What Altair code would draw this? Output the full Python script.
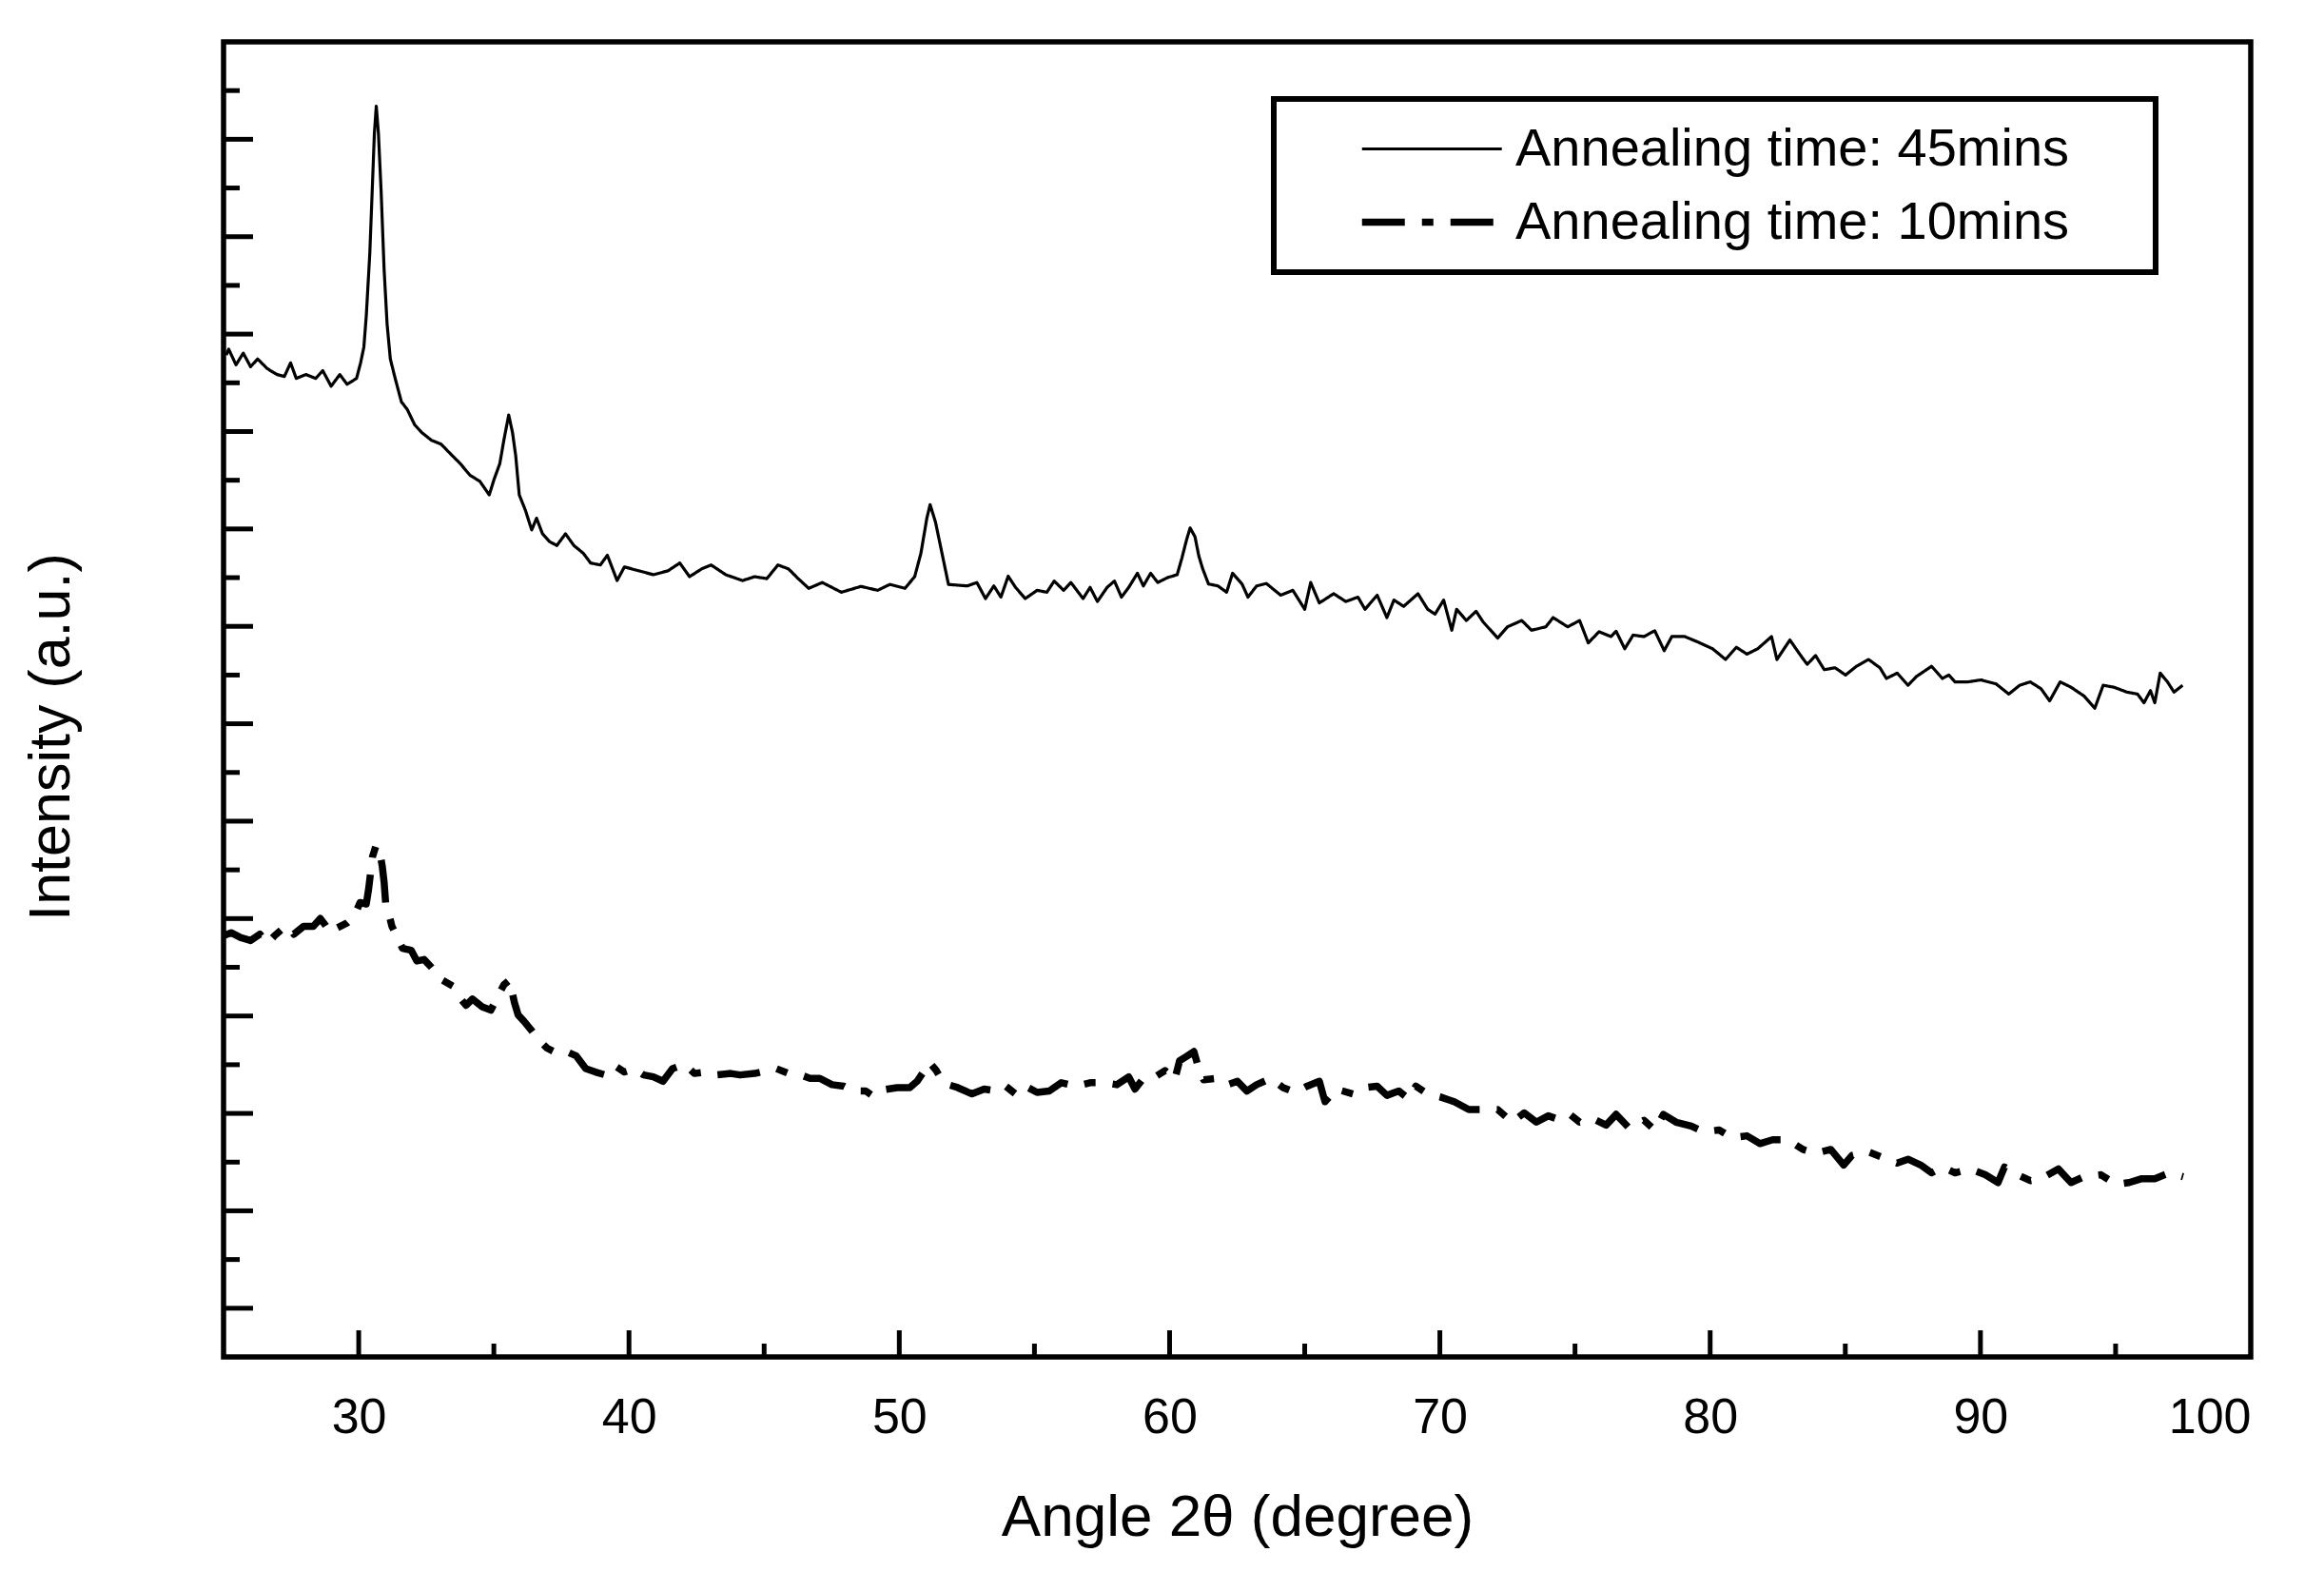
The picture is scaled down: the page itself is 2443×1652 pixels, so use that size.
import altair as alt
import pandas as pd

# ---- data ----
S45 = "Annealing time: 45mins"
S10 = "Annealing time: 10mins"

top_x = [25.10, 25.19, 25.46, 25.73, 26.00, 26.26, 26.62, 26.98, 27.25, 27.48,
         27.69, 28.05, 28.41, 28.67, 28.98, 29.30, 29.57, 29.92, 30.07, 30.19,
         30.28, 30.41, 30.51, 30.58, 30.65, 30.73, 30.83, 30.94, 31.05, 31.17,
         31.35, 31.58, 31.80, 32.07, 32.33, 32.69, 33.05, 33.40, 33.76, 34.12,
         34.48, 34.83, 35.01, 35.22, 35.37, 35.55, 35.69, 35.81, 35.94, 36.17,
         36.40, 36.58, 36.80, 37.06, 37.33, 37.65, 37.96, 38.31, 38.58, 38.94,
         39.20, 39.56, 39.83, 40.37, 40.90, 41.44, 41.88, 42.24, 42.69, 43.04,
         43.58, 44.20, 44.65, 45.10, 45.51, 45.90, 46.26, 46.65, 47.15, 47.86,
         48.58, 49.20, 49.65, 50.21, 50.57, 50.80, 51.02, 51.14, 51.34, 51.55,
         51.82,
         52.52, 52.87, 53.19, 53.50, 53.76, 54.03, 54.30, 54.66, 55.10, 55.46,
         55.73, 56.08, 56.35, 56.80, 57.06, 57.33, 57.69, 57.96, 58.22, 58.49,
         58.81, 59.03, 59.30, 59.56, 59.92, 60.28, 60.45, 60.63, 60.76, 60.94,
         61.08, 61.22, 61.44, 61.79, 62.11, 62.33, 62.68, 62.90, 63.22, 63.58,
         64.11, 64.56, 65.00, 65.22, 65.54, 66.07, 66.52, 66.97, 67.23, 67.68,
         68.04, 68.30, 68.66, 69.19, 69.55, 69.82, 70.14, 70.44, 70.62, 70.98,
         71.34, 71.60, 72.14, 72.50, 73.03, 73.39, 73.92, 74.19, 74.73, 75.17,
         75.49, 75.89, 76.33,
         76.52, 76.84, 77.15, 77.55, 77.95, 78.30, 78.58, 79.06, 79.54, 80.09,
         80.57, 80.97, 81.36, 81.76, 82.27, 82.47, 82.95, 83.35, 83.59, 83.90,
         84.22, 84.62, 85.01, 85.41, 85.86, 86.28, 86.52, 86.92, 87.32, 87.63,
         88.19, 88.59, 88.83, 89.06, 89.54, 90.02, 90.57, 91.05, 91.45, 91.84,
         92.24, 92.56, 92.95, 93.35, 93.83, 94.23, 94.54, 94.94, 95.42, 95.81,
         96.05, 96.29, 96.45, 96.65, 96.92, 97.16, 97.48]

top_y = [2057, 2069, 2037, 2061, 2033, 2049, 2029, 2017, 2013, 2041,
         2009, 2017, 2009, 2025, 1993, 2017, 1997, 2009, 2041, 2073,
         2137, 2265, 2409, 2512, 2568, 2512, 2393, 2233, 2121, 2049,
         2009, 1961, 1945, 1914, 1898, 1882, 1874, 1854, 1834, 1810,
         1798, 1770, 1802, 1834, 1882, 1934, 1898, 1850, 1770, 1738,
         1698, 1722, 1690, 1674, 1666, 1690, 1666, 1650, 1630, 1626,
         1646, 1594, 1622, 1614, 1606, 1614, 1630, 1602, 1618, 1626,
         1606, 1594, 1602, 1598, 1626, 1618, 1598, 1578, 1590, 1570,
         1582, 1574, 1586, 1578, 1602, 1650, 1722, 1750, 1714, 1658,
         1586,
         1583, 1590, 1557, 1583, 1560, 1603, 1580, 1557, 1574, 1570,
         1593, 1574, 1590, 1557, 1580, 1551, 1580, 1593, 1560, 1580,
         1609, 1583, 1609, 1590, 1600, 1606, 1639, 1678, 1702, 1684,
         1645, 1619, 1587, 1583, 1570, 1609, 1587, 1560, 1583, 1588,
         1564, 1574, 1535, 1590, 1548, 1567, 1551, 1560, 1535, 1564,
         1518, 1554, 1541, 1567, 1535, 1525, 1554, 1492, 1535, 1512,
         1531, 1509, 1476, 1499, 1512, 1492, 1499, 1518, 1499, 1512,
         1466, 1489, 1479,
         1490, 1454, 1482, 1479, 1491, 1450, 1479, 1479, 1468, 1454,
         1432, 1457, 1443, 1454, 1479, 1432, 1472, 1440, 1422, 1440,
         1411, 1415, 1400, 1418, 1432, 1415, 1393, 1404, 1379, 1397,
         1418, 1393, 1400, 1386, 1386, 1390, 1382, 1361, 1379, 1386,
         1372, 1347, 1386, 1375, 1357, 1332, 1379, 1375, 1365, 1361,
         1343, 1368, 1343, 1404, 1386, 1365, 1379]

bot_x = [25.00, 25.28, 25.64, 26.00, 26.35, 26.62, 26.89, 27.16, 27.42, 27.60,
         27.96, 28.32, 28.58, 28.76, 28.94, 29.21, 29.57, 29.83, 30.05, 30.28,
         30.37, 30.51, 30.64, 30.76, 30.87, 30.94, 31.00, 31.08, 31.23, 31.40,
         31.62, 31.94, 32.15, 32.42, 32.69, 33.08, 33.49, 33.73, 33.97, 34.21,
         34.56, 34.89, 35.15, 35.37, 35.58, 35.76, 35.90, 36.12, 36.40, 36.62,
         36.97, 37.33, 37.69, 38.05, 38.40, 38.76, 39.12, 39.47, 39.83, 40.19,
         40.54, 40.90, 41.26, 41.61, 42.06, 42.42, 42.86, 43.22, 43.76, 44.11,
         44.65, 45.10, 45.45, 45.90, 46.35, 46.70, 47.06, 47.51, 47.95, 48.31,
         48.76, 49.02, 49.47, 49.92, 50.39, 50.66, 50.93, 51.11, 51.37, 51.64,
         52.16, 52.69, 53.14, 53.59, 53.94, 54.30, 54.66, 55.10, 55.55, 55.99,
         56.53, 57.06, 57.60, 58.05, 58.49, 58.72, 59.03, 59.47, 59.83, 60.19,
         60.37, 60.63, 60.90, 61.08, 61.26, 61.70, 62.15, 62.51, 62.86, 63.22,
         63.75, 64.20, 64.65, 65.09, 65.54, 65.75, 66.16, 66.79, 67.23, 67.68,
         68.04, 68.48, 68.84, 69.11, 69.55, 70.00, 70.53, 71.07, 71.60, 72.14,
         72.67, 73.12, 73.57, 74.01, 74.37, 74.81, 75.17, 75.71, 76.15,
         76.52, 77.00, 77.55, 77.95, 78.27, 78.74, 79.30, 79.77, 80.33, 80.81,
         81.36, 81.84, 82.31, 82.87, 83.43, 83.90, 84.46, 84.94, 85.25, 85.81,
         86.36, 86.92, 87.32, 87.79, 88.19, 88.59, 89.06, 89.62, 90.18, 90.65,
         90.89, 91.37, 91.84, 92.24, 92.88, 93.35, 93.83, 94.46, 95.02, 95.50,
         95.97, 96.45, 97.00, 97.50]

bot_y = [865, 871, 861, 855, 868, 849, 865, 878, 884, 868,
         884, 884, 900, 887, 871, 881, 891, 904, 933, 930,
         962, 1027, 1050, 1043, 1008, 975, 930, 917, 884, 865,
         839, 835, 813, 816, 800, 774, 761, 738, 722, 735,
         719, 712, 741, 764, 774, 728, 702, 689, 670, 653,
         634, 624, 627, 618, 592, 585, 579, 598, 585, 592,
         579, 575, 566, 592, 601, 582, 585, 579, 582, 579,
         582, 588, 592, 582, 579, 572, 572, 559, 556, 546,
         546, 536, 549, 553, 553, 566, 588, 605, 588, 562,
         553, 540, 550, 546, 556, 540, 556, 543, 546, 563,
         556, 563, 563, 559, 575, 550, 572, 575, 588, 569,
         608, 617, 627, 592, 569, 572, 559, 566, 546, 559,
         572, 553, 543, 556, 566, 524, 550, 540, 553, 556,
         537, 546, 530, 556, 540, 534, 524, 508, 508, 508,
         482, 501, 482, 495, 488, 498, 482, 488, 476,
         498, 470, 486, 466, 498, 482, 474, 462, 466, 450,
         454, 438, 446, 446, 426, 418, 426, 394, 414, 422,
         410, 398, 406, 394, 378, 390, 378, 386, 374, 358,
         390, 374, 362, 366, 386, 358, 370, 374, 354, 358,
         366, 366, 378, 370]

x_labels = [30, 40, 50, 60, 70, 80, 90, 100]
x_major = [30, 40, 50, 60, 70, 80, 90]
x_minor = [35, 45, 55, 65, 75, 85, 95]
y_major = [100, 300, 500, 700, 900, 1100, 1300, 1500, 1700, 1900, 2100, 2300, 2500]
y_minor = [200, 400, 600, 800, 1000, 1200, 1400, 1600, 1800, 2000, 2200, 2400, 2600]

# ---- chart ----
W, H = 2131, 1382
FONT = "Liberation Sans"
xs = alt.Scale(domain=[25, 100], nice=False, zero=False)
ys = alt.Scale(domain=[0, 2700], nice=False, zero=False)

x_axis = alt.Axis(
    values=x_labels, title="Angle 2θ (degree)", ticks=False,
    domain=False, grid=False, labelFont=FONT, labelFontSize=52,
    labelColor="black", labelBaseline="alphabetic", labelPadding=79,
    titleFont=FONT, titleFontSize=62, titleFontWeight="normal",
    titleColor="black", titleBaseline="alphabetic", titleY=187)
y_axis = alt.Axis(
    title="Intensity (a.u.)", labels=False, ticks=False, domain=False,
    grid=False, titleFont=FONT, titleFontSize=61, titleFontWeight="normal",
    titleColor="black", titleAngle=270, titleAlign="center",
    titleBaseline="alphabetic", titleX=-163, titleY=730)

df = pd.DataFrame({
    "angle": top_x + bot_x,
    "intensity": top_y + bot_y,
    "series": [S45] * len(top_x) + [S10] * len(bot_x),
})

leg = alt.Legend(
    title=None, orient="none", legendX=1193, legendY=74,
    symbolType="M-1,0H3", symbolSize=5400, symbolStrokeColor="black",
    labelFont=FONT, labelFontSize=56, labelColor="black", labelLimit=0,
    labelOffset=84, padding=0, rowPadding=8, symbolOffset=0,
)

lines = alt.Chart(df).mark_line(color="black", strokeJoin="round").encode(
    x=alt.X("angle:Q", scale=xs, axis=x_axis),
    y=alt.Y("intensity:Q", scale=ys, axis=y_axis),
    strokeDash=alt.StrokeDash("series:N", scale=alt.Scale(
        domain=[S45, S10], range=[[1, 0], [45, 18, 12, 18]]), legend=leg),
    strokeWidth=alt.StrokeWidth("series:N", scale=alt.Scale(
        domain=[S45, S10], range=[3.2, 7.5]), legend=leg),
)

box = alt.Chart(pd.DataFrame({"k": [0]})).mark_rect(
    fill="white", stroke="black", strokeWidth=6
).encode(x=alt.value(1104), x2=alt.value(2031), y=alt.value(60), y2=alt.value(242))

xt_major = alt.Chart(pd.DataFrame({"angle": x_major})).mark_rule(color="black", strokeWidth=5).encode(
    x=alt.X("angle:Q", scale=xs, axis=x_axis), y=alt.value(H), y2=alt.value(H - 28))
xt_minor = alt.Chart(pd.DataFrame({"angle": x_minor})).mark_rule(color="black", strokeWidth=5).encode(
    x=alt.X("angle:Q", scale=xs, axis=x_axis), y=alt.value(H), y2=alt.value(H - 14))
yt_major = alt.Chart(pd.DataFrame({"intensity": y_major})).mark_rule(color="black", strokeWidth=5).encode(
    y=alt.Y("intensity:Q", scale=ys, axis=y_axis), x=alt.value(0), x2=alt.value(31))
yt_minor = alt.Chart(pd.DataFrame({"intensity": y_minor})).mark_rule(color="black", strokeWidth=5).encode(
    y=alt.Y("intensity:Q", scale=ys, axis=y_axis), x=alt.value(0), x2=alt.value(17))

chart = alt.layer(box, lines, xt_major, xt_minor, yt_major, yt_minor).properties(
    width=W, height=H,
    padding={"left": 227, "top": 36, "right": 69, "bottom": 218},
    autosize=alt.AutoSizeParams(type="none"),
    background="white",
).configure(font=FONT).configure_view(stroke="black", strokeWidth=5.5)

chart.save("out.html", embed_options={"renderer": "svg", "actions": False})
